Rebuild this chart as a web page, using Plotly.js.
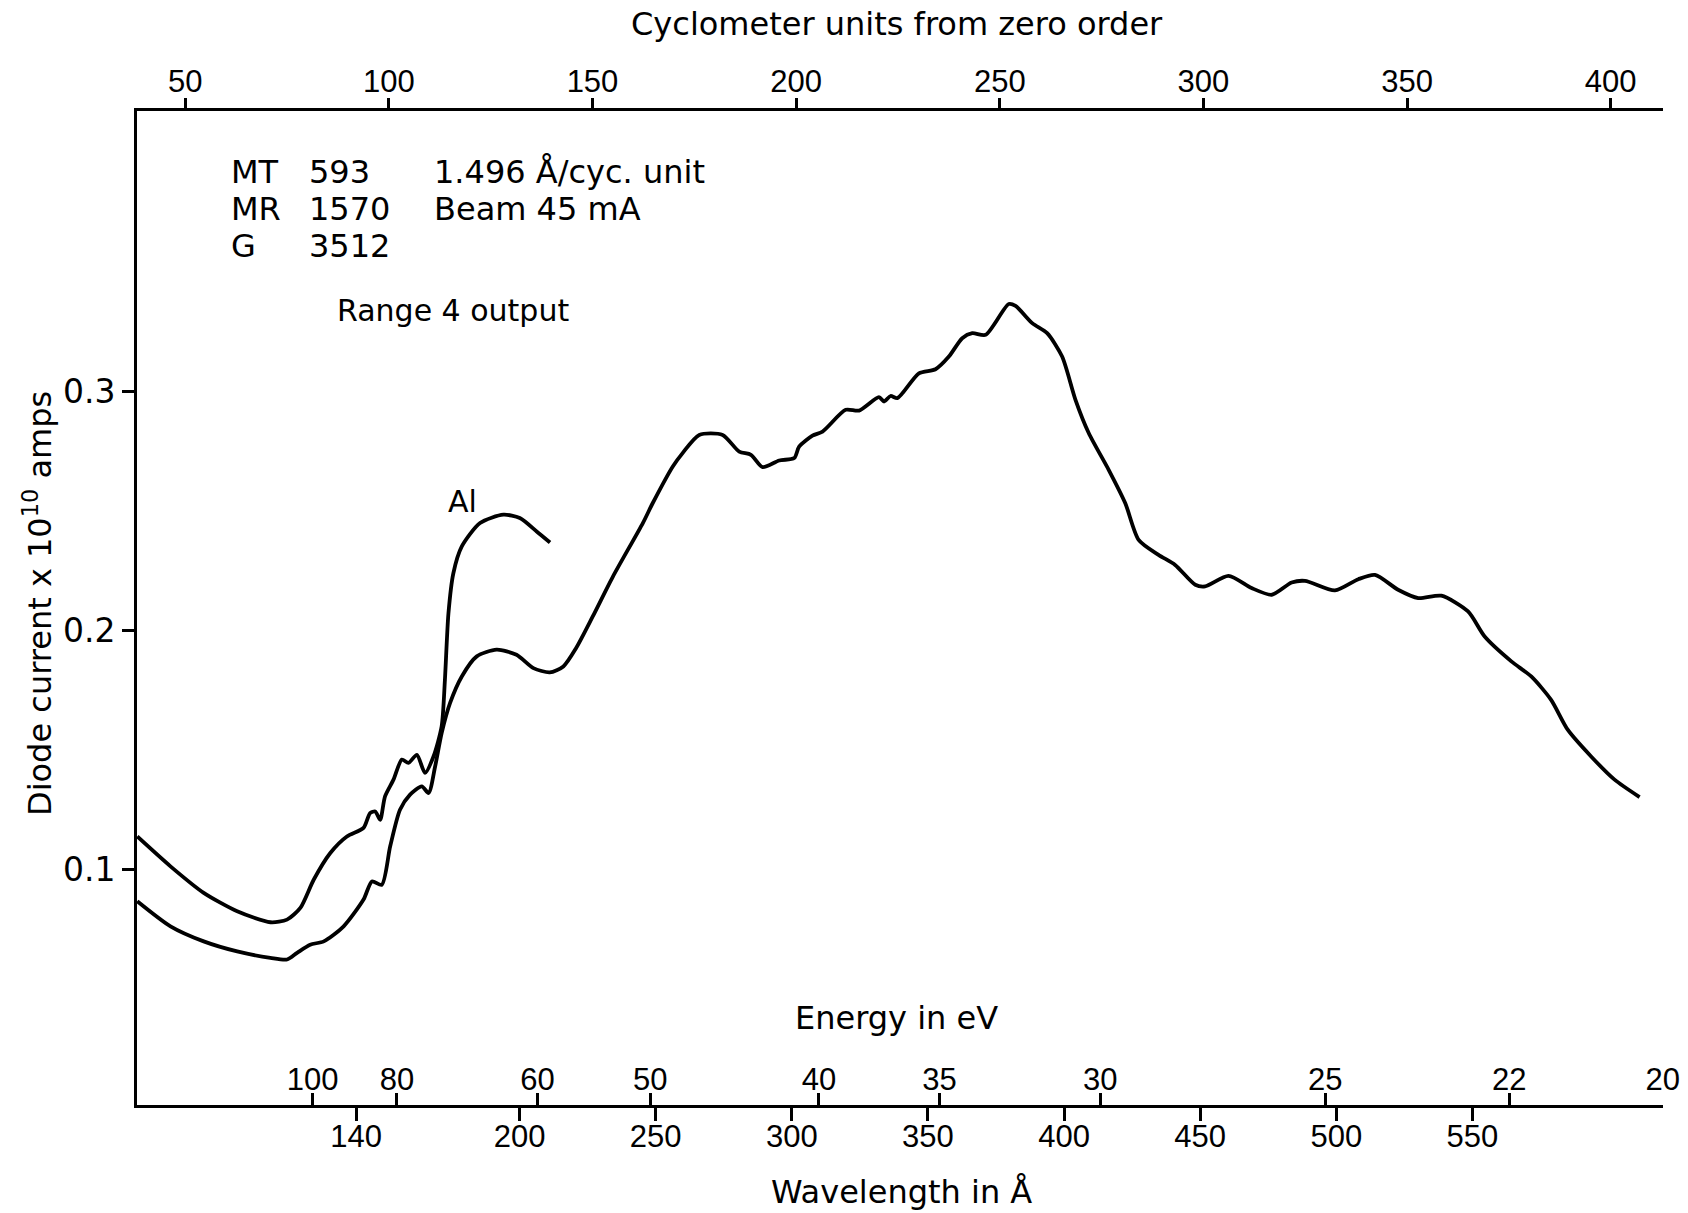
<!DOCTYPE html>
<html>
<head>
<meta charset="utf-8">
<script src="https://cdn.plot.ly/plotly-3.0.1.min.js"></script>
<style>
  html, body { margin: 0; padding: 0; background: #ffffff; }
  #chart { width: 1688px; height: 1213px; }
</style>
</head>
<body>
<div id="chart"></div>
<script>
// ---- Data ----
// Main (lower) curve: wavelength in Å and diode current (x 10^10 A)
const wavelengthMain = [59.6, 71.8, 84.0, 96.3, 108.5, 114.6, 118.3, 123.1, 128.1, 135.4, 142.7, 145.8, 149.4, 152.5, 156.1, 159.8, 164.1, 166.6, 169.0, 171.4, 174.5, 178.8, 184.3, 191.6, 198.9, 205.1, 211.1, 216.1, 220.8, 226.9, 234.3, 245.3, 248.9, 256.3, 259.9, 266.0, 274.6, 280.7, 285.0, 289.3, 295.4, 300.9, 302.7, 307.6, 311.3, 319.8, 324.7, 332.0, 333.9, 336.3, 338.8, 346.7, 352.8, 357.7, 362.6, 366.3, 371.2, 379.7, 382.2, 388.3, 393.8, 399.3, 404.2, 409.1, 416.4, 422.5, 427.4, 434.7, 440.8, 448.2, 451.8, 460.4, 468.9, 476.3, 483.6, 488.5, 499.5, 508.1, 514.2, 522.7, 530.1, 538.6, 548.4, 554.5, 564.3, 571.6, 578.9, 585.0, 593.6, 602.2, 611.4];
const currentMain = [0.0867, 0.0762, 0.0699, 0.0657, 0.0630, 0.0623, 0.0651, 0.0685, 0.0699, 0.0762, 0.0874, 0.0950, 0.0936, 0.1097, 0.1250, 0.1313, 0.1348, 0.1320, 0.1431, 0.1571, 0.1697, 0.1808, 0.1892, 0.1920, 0.1899, 0.1843, 0.1825, 0.1850, 0.1927, 0.2059, 0.2226, 0.2450, 0.2533, 0.2687, 0.2743, 0.2819, 0.2819, 0.2749, 0.2736, 0.2684, 0.2712, 0.2722, 0.2770, 0.2816, 0.2833, 0.2924, 0.2921, 0.2977, 0.2959, 0.2982, 0.2973, 0.3077, 0.3094, 0.3147, 0.3224, 0.3245, 0.3238, 0.3367, 0.3359, 0.3287, 0.3245, 0.3147, 0.2966, 0.2826, 0.2673, 0.2533, 0.2380, 0.2317, 0.2275, 0.2192, 0.2185, 0.2229, 0.2178, 0.2150, 0.2201, 0.2208, 0.2168, 0.2215, 0.2233, 0.2171, 0.2136, 0.2146, 0.2080, 0.1975, 0.1871, 0.1808, 0.1710, 0.1585, 0.1473, 0.1376, 0.1303];

// Curve with the Al filter
const wavelengthAl = [59.6, 71.8, 84.0, 96.3, 108.5, 114.6, 119.5, 124.4, 130.5, 136.6, 142.7, 145.1, 147.0, 148.8, 150.6, 153.7, 156.8, 159.2, 162.3, 165.3, 168.4, 171.4, 172.6, 173.9, 175.7, 178.8, 185.5, 194.1, 200.1, 206.3, 211.2];
const currentAl = [0.1138, 0.1013, 0.0902, 0.0825, 0.0779, 0.0790, 0.0839, 0.0957, 0.1069, 0.1138, 0.1174, 0.1236, 0.1243, 0.1208, 0.1306, 0.1376, 0.1460, 0.1446, 0.1480, 0.1404, 0.1473, 0.1599, 0.1794, 0.2073, 0.2240, 0.2352, 0.2450, 0.2485, 0.2471, 0.2415, 0.2369];

// Tick labels
const wavelengthTicks = [140, 200, 250, 300, 350, 400, 450, 500, 550];
const energyTicks = [100, 80, 60, 50, 40, 35, 30, 25, 22, 20];
const cyclometerTicks = [50, 100, 150, 200, 250, 300, 350, 400];
const currentTicks = [0.1, 0.2, 0.3];

// Scale relations
const HC_EV_ANGSTROM = 12398.4;     // E(eV) = 12398.4 / lambda(Å)
const ANGSTROM_PER_CYC = 1.496;     // 1.496 Å / cyc. unit
const CYC_ZERO_OFFSET = 2.4;        // lambda at cyclometer 0

// ---- Layout ----
const xRange = [59.5, 620.0];
const yRange = [0.0014, 0.4175];
const cycRange = xRange.map(l => (l - CYC_ZERO_OFFSET) / ANGSTROM_PER_CYC);
const energyTickPos = energyTicks.map(e => HC_EV_ANGSTROM / e);

const tickFont = {family: 'Liberation Sans, Arial, sans-serif', size: 31, color: '#000'};
const textFont = {family: 'DejaVu Sans, sans-serif', size: 32, color: '#000'};

const lineStyle = {color: '#000', width: 3.8, shape: 'spline', smoothing: 0.7};

const traces = [
  {x: wavelengthMain, y: currentMain, type: 'scatter', mode: 'lines', line: lineStyle, hoverinfo: 'skip', xaxis: 'x', yaxis: 'y'},
  {x: wavelengthAl, y: currentAl, type: 'scatter', mode: 'lines', line: lineStyle, hoverinfo: 'skip', xaxis: 'x', yaxis: 'y'},
  {x: [], y: [], type: 'scatter', mode: 'lines', xaxis: 'x2', yaxis: 'y', hoverinfo: 'skip'},
  {x: [], y: [], type: 'scatter', mode: 'lines', xaxis: 'x3', yaxis: 'y', hoverinfo: 'skip'}
];

function ann(text, x, y, opts) {
  return Object.assign({text: text, x: x, y: y, xref: 'paper', yref: 'paper',
    showarrow: false, xanchor: 'left', yanchor: 'middle', font: textFont}, opts || {});
}

const layout = {
  width: 1688, height: 1213,
  margin: {l: 137, r: 25, t: 111, b: 108},
  paper_bgcolor: '#ffffff', plot_bgcolor: '#ffffff',
  showlegend: false,
  xaxis: {
    range: xRange, tickvals: wavelengthTicks, ticktext: wavelengthTicks.map(String),
    ticks: 'outside', ticklen: 13, tickwidth: 3, tickcolor: '#000',
    ticklabelstandoff: -11,
    showline: true, linewidth: 3, linecolor: '#000', mirror: false,
    showgrid: false, zeroline: false, tickfont: tickFont, side: 'bottom'
  },
  xaxis2: {
    overlaying: 'x', side: 'top', anchor: 'y',
    range: cycRange, tickvals: cyclometerTicks, ticktext: cyclometerTicks.map(String),
    ticks: 'outside', ticklen: 10, tickwidth: 3, tickcolor: '#000',
    ticklabelstandoff: -6,
    showline: true, linewidth: 3, linecolor: '#000',
    showgrid: false, zeroline: false, tickfont: tickFont
  },
  xaxis3: {
    overlaying: 'x', side: 'bottom', anchor: 'y',
    range: xRange, tickvals: energyTickPos, ticktext: energyTicks.map(String),
    ticks: 'inside', ticklen: 12, tickwidth: 3, tickcolor: '#000',
    ticklabelposition: 'inside', ticklabeloverflow: 'allow',
    showline: false, showgrid: false, zeroline: false, tickfont: tickFont
  },
  yaxis: {
    range: yRange, tickvals: currentTicks, ticktext: currentTicks.map(v => v.toFixed(1)),
    ticks: 'outside', ticklen: 12, tickwidth: 3, tickcolor: '#000',
    showline: true, linewidth: 3, linecolor: '#000',
    showgrid: false, zeroline: false,
    tickfont: {family: 'DejaVu Sans, sans-serif', size: 33, color: '#000'}
  },
  annotations: [
    ann('Cyclometer units from zero order', 0.498, 1.0875, {xanchor: 'center'}),
    ann('Wavelength in Å', 0.5013, -0.0875, {xanchor: 'center'}),
    ann('Energy in eV', 0.498, 0.0875, {xanchor: 'center'}),
    ann('Diode current x 10<sup>10</sup> amps', -0.0649, 0.505, {xanchor: 'center', textangle: -90}),
    ann('MT', 0.0603, 0.9386),
    ann('593', 0.1116, 0.9386),
    ann('1.496 Å/cyc. unit', 0.1933, 0.9386),
    ann('MR', 0.0603, 0.9016),
    ann('1570', 0.1116, 0.9016),
    ann('Beam 45 mA', 0.1933, 0.9016),
    ann('G', 0.0603, 0.8637),
    ann('3512', 0.1116, 0.8637),
    ann('Range 4 output', 0.1296, 0.7988, {font: {family: 'DejaVu Sans, sans-serif', size: 30, color: '#000'}}),
    ann('Al', 0.2136, 0.607, {xanchor: 'center', font: {family: 'DejaVu Sans, sans-serif', size: 30, color: '#000'}})
  ]
};

Plotly.newPlot('chart', traces, layout, {staticPlot: true, displayModeBar: false});
</script>
</body>
</html>
